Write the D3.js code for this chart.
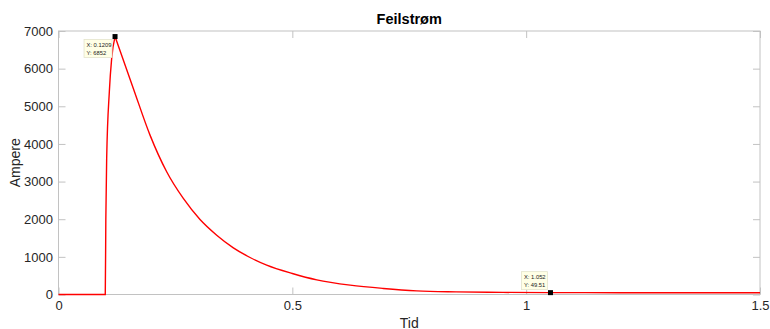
<!DOCTYPE html>
<html>
<head>
<meta charset="utf-8">
<script src="https://cdn.jsdelivr.net/npm/d3@7"></script>
<style>
  html, body { margin: 0; padding: 0; background: #fff; }
  svg { display: block; }
  text { font-family: "Liberation Sans", Arial, Helvetica, sans-serif; }
</style>
</head>
<body>
<svg id="chart" width="770" height="329"></svg>
<script>
// Fault current over time (Tid in s, current in A)
const tid     = [0, 0.1, 0.1012, 0.1030, 0.1087, 0.1137, 0.1209, 0.160, 0.1957, 0.2313, 0.2669, 0.3026, 0.3383, 0.3739, 0.4096, 0.4452, 0.5, 0.5523, 0.6236, 0.6946, 0.766, 0.85, 0.95, 1.052, 1.2, 1.35, 1.5];
const ampere  = [0, 0, 2000, 3615, 5386, 6273, 6852, 5475, 4234, 3260, 2551, 1993, 1576, 1240, 983, 779, 558, 389, 248, 160, 97, 70, 56, 49.51, 48, 47, 47];

// Data tips shown on the curve
const tipX = [0.1209, 1.052];
const tipY = [6852, 49.51];
const tipLabelX = ["0.1209", "1.052"];
const tipLabelY = ["6852", "49.51"];

const xTicks = [0, 0.5, 1, 1.5];
const xTickLabels = ["0", "0.5", "1", "1.5"];
const yTicks = [0, 1000, 2000, 3000, 4000, 5000, 6000, 7000];

const title = "Feilstrøm";
const xLabel = "Tid";
const yLabel = "Ampere";

const svg = d3.select("#chart");
const plotL = 58.5, plotR = 760, plotT = 31, plotB = 294.5;

const x = d3.scaleLinear().domain([0, 1.5]).range([plotL, plotR]);
const y = d3.scaleLinear().domain([0, 7000]).range([plotB, plotT]);

const axisCol = "#c2c2c2";
const textCol = "#262626";
const tickLen = 7;

// Axes frame with inward ticks on all four sides
svg.append("rect")
  .attr("x", plotL).attr("y", plotT)
  .attr("width", plotR - plotL).attr("height", plotB - plotT)
  .attr("fill", "none").attr("stroke", axisCol).attr("stroke-width", 1);

const bottomAxis = d3.axisBottom(x).tickValues(xTicks).tickSizeInner(-tickLen).tickSizeOuter(0).tickFormat((d, i) => xTickLabels[i]);
const topAxis = d3.axisTop(x).tickValues(xTicks).tickSizeInner(-tickLen).tickSizeOuter(0).tickFormat("");
const leftAxis = d3.axisLeft(y).tickValues(yTicks).tickSizeInner(-tickLen).tickSizeOuter(0).tickFormat(d3.format("d"));
const rightAxis = d3.axisRight(y).tickValues(yTicks).tickSizeInner(-tickLen).tickSizeOuter(0).tickFormat("");

function styleAxis(g) {
  g.select(".domain").remove();
  g.selectAll(".tick line").attr("stroke", axisCol);
  g.selectAll(".tick text")
    .attr("fill", textCol)
    .style("font-size", "13px")
    .style("font-family", "'Liberation Sans', Arial, Helvetica, sans-serif");
}

svg.append("g").attr("transform", `translate(0,${plotB})`).call(bottomAxis).call(styleAxis)
  .selectAll(".tick text").attr("dy", "0.71em").attr("y", 6);
svg.append("g").attr("transform", `translate(0,${plotT})`).call(topAxis).call(styleAxis);
svg.append("g").attr("transform", `translate(${plotL},0)`).call(leftAxis).call(styleAxis)
  .selectAll(".tick text").attr("x", -5.5);
svg.append("g").attr("transform", `translate(${plotR},0)`).call(rightAxis).call(styleAxis);

// Current curve: rise up to the peak, then the decay
const pts = tid.map((t, i) => [t, ampere[i]]);
const peakIdx = ampere.indexOf(d3.max(ampere));
const line = d3.line().x(d => x(d[0])).y(d => y(d[1])).curve(d3.curveMonotoneX);
const curve = svg.append("g").attr("fill", "none").attr("stroke", "#ff0000")
  .attr("stroke-width", 1.4).attr("stroke-linejoin", "miter");
curve.append("path").attr("d", line(pts.slice(0, peakIdx + 1)));
curve.append("path").attr("d", line(pts.slice(peakIdx)));

// Data tips
const tips = svg.append("g");
tipX.forEach((tx, i) => {
  const px = x(tx), py = y(tipY[i]);
  const w = i === 0 ? 28 : 26, h = 18;
  const bx = px - 3 - w;
  const by = i === 0 ? py + 3 : py - 3 - h;
  tips.append("rect")
    .attr("x", bx).attr("y", by).attr("width", w).attr("height", h)
    .attr("fill", "#ffffe6").attr("stroke", "#e4e4cc").attr("stroke-width", 0.8);
  tips.append("text").attr("x", bx + 2.5).attr("y", by + 7.3)
    .attr("fill", "#222").style("font-size", "5.8px").text("X: " + tipLabelX[i]);
  tips.append("text").attr("x", bx + 2.5).attr("y", by + 15)
    .attr("fill", "#222").style("font-size", "5.8px").text("Y: " + tipLabelY[i]);
  tips.append("rect")
    .attr("x", px - 2.5).attr("y", py - 2.5).attr("width", 5).attr("height", 5)
    .attr("fill", "#000");
});

// Title and axis labels
svg.append("text").attr("x", (plotL + plotR) / 2).attr("y", 24.3)
  .attr("text-anchor", "middle").attr("fill", "#000")
  .style("font-size", "14.5px").style("font-weight", "bold").text(title);
svg.append("text").attr("x", (plotL + plotR) / 2).attr("y", 327.5)
  .attr("text-anchor", "middle").attr("fill", textCol)
  .style("font-size", "14px").text(xLabel);
svg.append("text")
  .attr("transform", `translate(19.5,${(plotT + plotB) / 2}) rotate(-90)`)
  .attr("text-anchor", "middle").attr("fill", textCol)
  .style("font-size", "14px").text(yLabel);
</script>
</body>
</html>
